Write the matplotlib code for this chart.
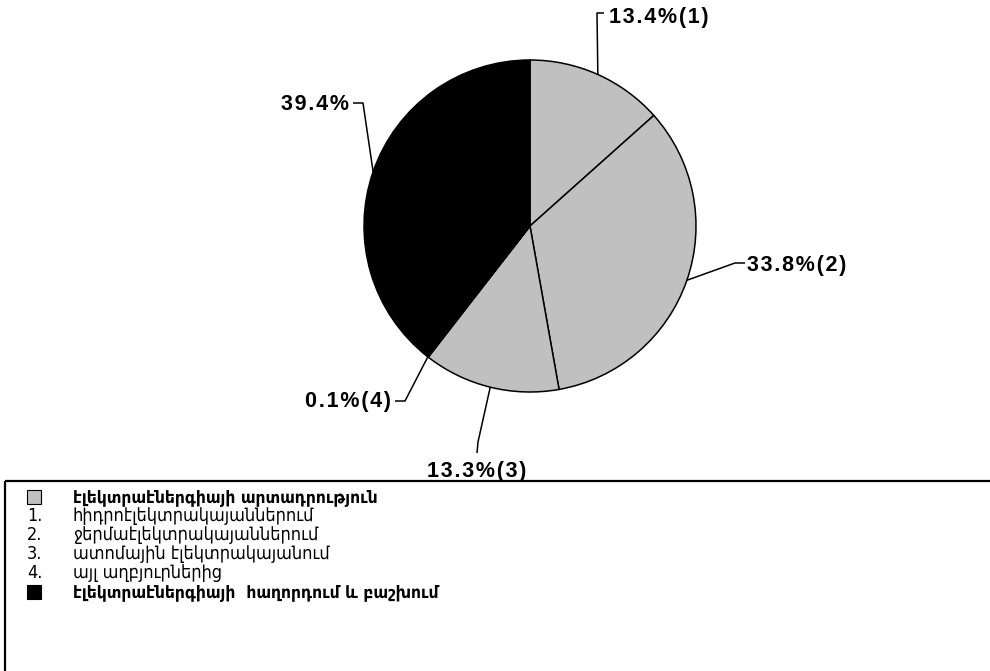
import numpy as np
import matplotlib.pyplot as plt
from matplotlib.patches import Rectangle

# shares of electricity balance, clockwise from the top
shares = [13.4, 33.8, 13.3, 0.1, 39.4]
pct_labels = ['13.4%(1)', '33.8%(2)', '13.3%(3)', '0.1%(4)', '39.4%']
slice_colors = ['#c0c0c0', '#c0c0c0', '#c0c0c0', '#c0c0c0', '#000000']

legend_head = 'էլեկտրաէներգիայի արտադրություն'
legend_sub = ['հիդրոէլեկտրակայաններում',
              'ջերմաէլեկտրակայաններում',
              'ատոմային էլեկտրակայանում',
              'այլ աղբյուրներից']
legend_tail = 'էլեկտրաէներգիայի  հաղորդում և բաշխում'

W, H = 990, 671
cx, cy, R = 530, 226, 166

fig = plt.figure(figsize=(W / 100, H / 100), dpi=100)
ax = fig.add_axes([0, 0, 1, 1])

# y axis is inverted below, so ccw in data = clockwise on screen
wedges, _ = ax.pie(shares, colors=slice_colors, center=(cx, cy), radius=R,
                   startangle=-90, counterclock=True,
                   wedgeprops=dict(edgecolor='black', linewidth=1.1))
ax.set_xlim(0, W)
ax.set_ylim(H, 0)
ax.set_aspect('equal')
ax.axis('off')

# leader elbows and text anchors (pixels)
leaders = [
    dict(pts=[(597, 13), (604, 13)], xy=(609, 18), ha='left'),
    dict(pts=[(735, 263), (745, 263)], xy=(747, 266), ha='left'),
    dict(pts=[(478, 442), (477, 453)], xy=(477, 472), ha='center'),
    dict(pts=[(405, 401), (395, 401)], xy=(391, 402), ha='right'),
    dict(pts=[(363, 103), (353, 103)], xy=(349, 105), ha='right'),
]

lab_font = dict(family=['Liberation Sans', 'DejaVu Sans'], fontsize=15.5,
                fontweight='bold', color='black')


def spaced(s):
    # the original labels are slightly letter-spaced
    return '\u200a'.join(s)


for w, lab, ld in zip(wedges, pct_labels, leaders):
    ang = np.deg2rad((w.theta1 + w.theta2) / 2)
    ex, ey = cx + R * np.cos(ang), cy + R * np.sin(ang)
    xs = [ex] + [p[0] for p in ld['pts']]
    ys = [ey] + [p[1] for p in ld['pts']]
    ax.plot(xs, ys, color='black', lw=1.1, solid_capstyle='butt')
    ax.text(ld['xy'][0], ld['xy'][1], spaced(lab), ha=ld['ha'], va='center',
            **lab_font)

# legend box
ax.add_patch(Rectangle((5, 481), 1000, 300, fill=False, edgecolor='black',
                       linewidth=1.6, clip_on=False))

leg_font = dict(family=['DejaVu Sans'], color='black', fontstretch='condensed')
row0 = 497
step = 19
ax.add_patch(Rectangle((27, row0 - 7), 14, 14, facecolor='#c0c0c0',
                       edgecolor='black', linewidth=0.8))
ax.text(73, row0, legend_head, va='center', fontweight='bold', fontsize=12.5,
        **leg_font)
for i, s in enumerate(legend_sub):
    y = row0 + step * (i + 1)
    ax.text(27, y, f'{i + 1}.', va='center', fontsize=13, **leg_font)
    ax.text(73, y, s, va='center', fontsize=13, **leg_font)
yb = row0 + step * 5
ax.add_patch(Rectangle((27, yb - 7), 14, 14, facecolor='black',
                       edgecolor='black', linewidth=0.8))
ax.text(73, yb, legend_tail, va='center', fontweight='bold', fontsize=12.5,
        **leg_font)

fig.savefig('out.png', dpi=100)
